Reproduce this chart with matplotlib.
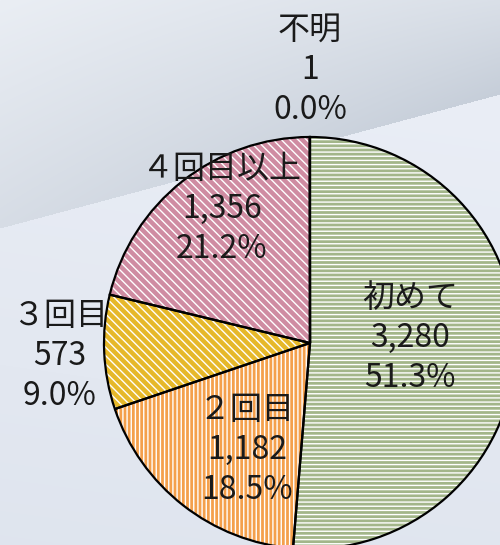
import numpy as np
import matplotlib
matplotlib.use("Agg")
import matplotlib.pyplot as plt
from matplotlib.colors import to_rgb

plt.rcParams['font.family'] = ['Noto Sans CJK JP', 'DejaVu Sans']
plt.rcParams['hatch.linewidth'] = 1.0

# data (clockwise from top)
labels = ['初めて', '２回目', '３回目', '４回目以上', '不明']
counts = [3280, 1182, 573, 1356, 1]
colors = ['#a3b68a', '#f4a04c', '#e6b82a', '#cf8ca2', '#9db0c8']
hatches = ['----', '||||', '\\\\\\\\', '\\\\\\\\', '']

# label centres in pixel coordinates (x, y from top of first line)
label_pos = [(410, 298), (247, 410), (60, 316), (222, 169), (310, 30)]
LINE_STEP = 40

W, H = 500, 545
CX, CY, R = 310, 343, 206

fig = plt.figure(figsize=(W / 100, H / 100), dpi=100)

# background gradient with the diagonal band
bg = fig.add_axes([0, 0, 1, 1])
yy, xx = np.mgrid[0:H, 0:W].astype(float)
edge = 228 - 0.268 * xx
light_top, dark_top = np.array(to_rgb('#eaeef4')), np.array(to_rgb('#c6ced9'))
t_up = np.clip(0.45 * xx / W + 0.55 * yy / edge, 0, 1)[..., None]
upper = light_top + (dark_top - light_top) * t_up
light_lo, dark_lo = np.array(to_rgb('#eaeef6')), np.array(to_rgb('#dce2ec'))
t_lo = np.clip((yy - edge) / H * 0.8 + (1 - xx / W) * 0.3, 0, 1)[..., None]
lower = light_lo + (dark_lo - light_lo) * t_lo
img = np.where((yy < edge)[..., None], upper, lower)
bg.imshow(img, extent=(0, W, H, 0), aspect='auto', interpolation='bilinear')
bg.axis('off')

ax = fig.add_axes([0, 0, 1, 1], facecolor='none')
wedges, _ = ax.pie(counts, colors=colors, startangle=90, counterclock=False,
                   center=(CX, H - CY), radius=R,
                   wedgeprops=dict(edgecolor='white', linewidth=0))
for w, h in zip(wedges, hatches):
    w.set_hatch(h)
ax.pie(counts, colors=['none'] * len(counts), startangle=90, counterclock=False,
       center=(CX, H - CY), radius=R,
       wedgeprops=dict(edgecolor='black', linewidth=1.6))

total = sum(counts)
for name, n, (px, py) in zip(labels, counts, label_pos):
    lines = [name, '{:,}'.format(n), '{:.1f}%'.format(n * 100 / total)]
    for i, s in enumerate(lines):
        ax.text(px, H - (py + i * LINE_STEP), s, ha='center', va='center',
                fontsize=23, color='#1a1a1a')

ax.set_xlim(0, W)
ax.set_ylim(0, H)
ax.axis('off')

fig.savefig('out.png', dpi=100)
